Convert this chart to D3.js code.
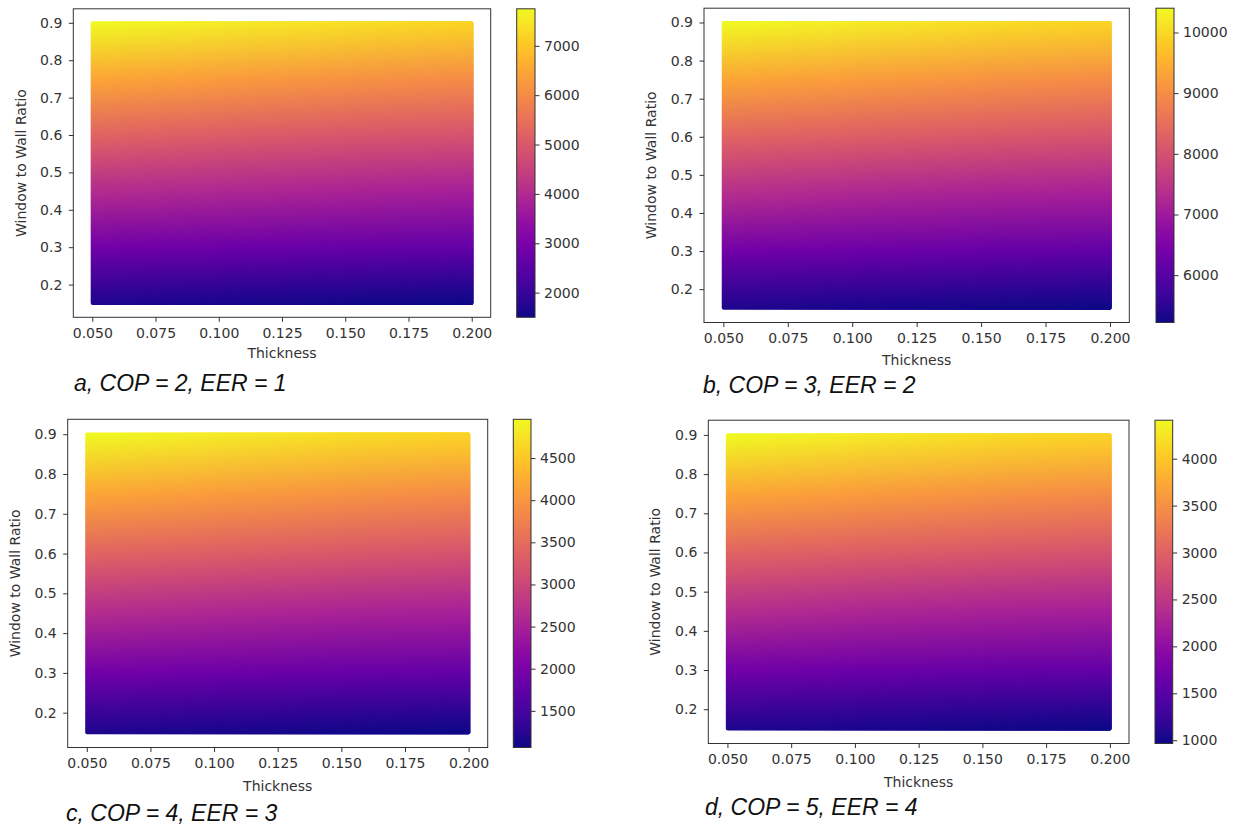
<!DOCTYPE html>
<html>
<head>
<meta charset="utf-8">
<script src="https://cdn.jsdelivr.net/npm/d3@7"></script>
<style>
  body { margin: 0; background: #fff; }
  svg { display: block; }
  text { font-family: 'DejaVu Sans', sans-serif; }
</style>
</head>
<body>
<svg id="chart"></svg>
<script>
// grid of the scatter
const thickness = [0.05, 0.1, 0.15, 0.2];
const wwr = [0.15, 0.3, 0.45, 0.6, 0.75, 0.9];

const xTicks = [0.05, 0.075, 0.1, 0.125, 0.15, 0.175, 0.2];
const yTicks = [0.2, 0.3, 0.4, 0.5, 0.6, 0.7, 0.8, 0.9];

// energy values, one row per wwr, one column per thickness
const valuesA = [
  [1690, 1620, 1560, 1500],
  [2880, 2790, 2710, 2630],
  [4060, 3950, 3850, 3750],
  [5250, 5110, 4990, 4880],
  [6500, 6330, 6160, 6000],
  [7750, 7540, 7360, 7190],
];
const valuesB = [
  [5375, 5320, 5270, 5220],
  [6360, 6280, 6205, 6150],
  [7345, 7240, 7160, 7085],
  [8330, 8225, 8120, 8020],
  [9365, 9210, 9080, 8950],
  [10400, 10220, 10060, 9935],
];
const valuesC = [
  [1180, 1140, 1100, 1065],
  [1920, 1865, 1805, 1765],
  [2660, 2585, 2525, 2470],
  [3400, 3325, 3245, 3170],
  [4180, 4065, 3965, 3870],
  [4960, 4825, 4705, 4610],
];
const valuesD = [
  [1070, 1035, 1000, 965],
  [1725, 1670, 1620, 1585],
  [2380, 2310, 2255, 2205],
  [3030, 2965, 2895, 2825],
  [3720, 3620, 3530, 3445],
  [4410, 4290, 4185, 4100],
];

const cbTicksA = [2000, 3000, 4000, 5000, 6000, 7000];
const cbTicksB = [6000, 7000, 8000, 9000, 10000];
const cbTicksC = [1500, 2000, 2500, 3000, 3500, 4000, 4500];
const cbTicksD = [1000, 1500, 2000, 2500, 3000, 3500, 4000];

const captions = [
  'a, COP = 2, EER = 1',
  'b, COP = 3, EER = 2',
  'c, COP = 4, EER = 3',
  'd, COP = 5, EER = 4',
];

// layout of the four panels (pixels)
const panels = [
  { key: 'a', values: valuesA, cbTicks: cbTicksA, caption: captions[0],
    box: [73.3, 8.8, 490.7, 317.3], cb: [516.7, 535], xlabY: 353, capX: 74, capY: 391, ylabX: 21 },
  { key: 'b', values: valuesB, cbTicks: cbTicksB, caption: captions[1],
    box: [704, 8.2, 1129.3, 322.5], cb: [1156, 1174], xlabY: 360, capX: 703, capY: 393, ylabX: 651 },
  { key: 'c', values: valuesC, cbTicks: cbTicksC, caption: captions[2],
    box: [67.7, 419.3, 487.7, 747.5], cb: [513.3, 531], xlabY: 786.5, capX: 66, capY: 821, ylabX: 15 },
  { key: 'd', values: valuesD, cbTicks: cbTicksD, caption: captions[3],
    box: [708.3, 420.2, 1129, 743.5], cb: [1155, 1172.7], xlabY: 782.5, capX: 705, capY: 815, ylabX: 655 },
];

const W = 1242, H = 826;
const markerR = 1.6;

const svg = d3.select('#chart')
    .attr('width', W)
    .attr('height', H);

const defs = svg.append('defs');

panels.forEach(p => {
  const [x0, y0, x1, y1] = p.box;
  const flat = p.values.flat();
  const vmin = d3.min(flat), vmax = d3.max(flat);

  // matplotlib style 5% margins
  const xPad = (d3.max(thickness) - d3.min(thickness)) * 0.05;
  const yPad = (d3.max(wwr) - d3.min(wwr)) * 0.05;
  const x = d3.scaleLinear()
      .domain([d3.min(thickness) - xPad, d3.max(thickness) + xPad])
      .range([x0, x1]);
  const y = d3.scaleLinear()
      .domain([d3.min(wwr) - yPad, d3.max(wwr) + yPad])
      .range([y1, y0]);
  const color = d3.scaleSequential(d3.interpolatePlasma).domain([vmin, vmax]);

  const g = svg.append('g').attr('class', 'panel-' + p.key);

  // one vertical gradient per thickness column
  const yTop = y(d3.max(wwr)), yBot = y(d3.min(wwr));
  thickness.forEach((t, j) => {
    const grad = defs.append('linearGradient')
        .attr('id', `col-${p.key}-${j}`)
        .attr('gradientUnits', 'userSpaceOnUse')
        .attr('x1', 0).attr('x2', 0)
        .attr('y1', yTop).attr('y2', yBot);
    wwr.slice().reverse().forEach((w, k) => {
      const row = wwr.length - 1 - k;
      grad.append('stop')
          .attr('offset', (y(w) - yTop) / (yBot - yTop))
          .attr('stop-color', color(p.values[row][j]));
    });
  });

  const fx0 = x(thickness[0]) - markerR;
  const fx1 = x(thickness[thickness.length - 1]) + markerR;
  const fy0 = yTop - markerR, fy1 = yBot + markerR;

  defs.append('clipPath')
      .attr('id', 'clip-' + p.key)
    .append('rect')
      .attr('x', fx0).attr('y', fy0)
      .attr('width', fx1 - fx0).attr('height', fy1 - fy0)
      .attr('rx', 2);

  const field = g.append('g').attr('clip-path', `url(#clip-${p.key})`);

  // first column fills the whole field, later ones fade in on top of it
  field.append('rect')
      .attr('x', fx0 - 2).attr('y', fy0 - 2)
      .attr('width', fx1 - fx0 + 4).attr('height', fy1 - fy0 + 4)
      .attr('fill', `url(#col-${p.key}-0)`);

  d3.pairs(thickness).forEach(([ta, tb], j) => {
    const fade = defs.append('linearGradient')
        .attr('id', `fade-${p.key}-${j}`)
        .attr('gradientUnits', 'userSpaceOnUse')
        .attr('x1', x(ta)).attr('x2', x(tb))
        .attr('y1', 0).attr('y2', 0);
    fade.append('stop').attr('offset', 0).attr('stop-color', '#000');
    fade.append('stop').attr('offset', 1).attr('stop-color', '#fff');

    defs.append('mask')
        .attr('id', `mask-${p.key}-${j}`)
        .attr('maskUnits', 'userSpaceOnUse')
        .attr('x', fx0 - 5).attr('y', fy0 - 5)
        .attr('width', fx1 - fx0 + 10).attr('height', fy1 - fy0 + 10)
      .append('rect')
        .attr('x', fx0 - 5).attr('y', fy0 - 5)
        .attr('width', fx1 - fx0 + 10).attr('height', fy1 - fy0 + 10)
        .attr('fill', `url(#fade-${p.key}-${j})`);

    field.append('rect')
        .attr('x', fx0 - 2).attr('y', fy0 - 2)
        .attr('width', fx1 - fx0 + 4).attr('height', fy1 - fy0 + 4)
        .attr('fill', `url(#col-${p.key}-${j + 1})`)
        .attr('mask', `url(#mask-${p.key}-${j})`);
  });

  // axes frame
  g.append('rect')
      .attr('x', x0).attr('y', y0)
      .attr('width', x1 - x0).attr('height', y1 - y0)
      .attr('fill', 'none')
      .attr('stroke', '#333')
      .attr('stroke-width', 1);

  const xAxis = g.append('g')
      .attr('transform', `translate(0,${y1})`)
      .call(d3.axisBottom(x).tickValues(xTicks).tickFormat(d3.format('.3f'))
        .tickSize(4.5).tickPadding(6.5).tickSizeOuter(0));
  const yAxis = g.append('g')
      .attr('transform', `translate(${x0},0)`)
      .call(d3.axisLeft(y).tickValues(yTicks).tickFormat(d3.format('.1f'))
        .tickSize(4.5).tickPadding(6.5).tickSizeOuter(0));

  [xAxis, yAxis].forEach(a => {
    a.select('.domain').remove();
    a.selectAll('line').attr('stroke', '#333');
    a.selectAll('text')
        .attr('fill', '#333')
        .style('font-size', '14px')
        .style('font-family', "'DejaVu Sans', sans-serif");
  });

  g.append('text')
      .attr('x', (x0 + x1) / 2)
      .attr('y', p.xlabY)
      .attr('dy', '0.35em')
      .attr('text-anchor', 'middle')
      .attr('fill', '#333')
      .style('font-size', '14px')
      .text('Thickness');

  g.append('text')
      .attr('transform', `translate(${p.ylabX},${(y0 + y1) / 2}) rotate(-90)`)
      .attr('dy', '0.35em')
      .attr('text-anchor', 'middle')
      .attr('fill', '#333')
      .style('font-size', '14px')
      .text('Window to Wall Ratio');

  // colorbar
  const [c0, c1] = p.cb;
  const cbScale = d3.scaleLinear().domain([vmin, vmax]).range([y1, y0]);
  const cbGrad = defs.append('linearGradient')
      .attr('id', 'cb-' + p.key)
      .attr('x1', 0).attr('x2', 0)
      .attr('y1', 1).attr('y2', 0);
  d3.range(0, 1.0001, 0.05).forEach(tt => {
    cbGrad.append('stop')
        .attr('offset', tt)
        .attr('stop-color', d3.interpolatePlasma(tt));
  });
  g.append('rect')
      .attr('x', c0).attr('y', y0)
      .attr('width', c1 - c0).attr('height', y1 - y0)
      .attr('fill', `url(#cb-${p.key})`)
      .attr('stroke', '#333')
      .attr('stroke-width', 1);

  const cbAxis = g.append('g')
      .attr('transform', `translate(${c1},0)`)
      .call(d3.axisRight(cbScale).tickValues(p.cbTicks).tickFormat(d3.format('d'))
        .tickSize(4.5).tickPadding(4.5).tickSizeOuter(0));
  cbAxis.select('.domain').remove();
  cbAxis.selectAll('line').attr('stroke', '#333');
  cbAxis.selectAll('text')
      .attr('fill', '#333')
      .style('font-size', '14px')
      .style('font-family', "'DejaVu Sans', sans-serif");

  // caption under the panel
  g.append('text')
      .attr('x', p.capX)
      .attr('y', p.capY)
      .attr('fill', '#111')
      .style('font-family', "'Liberation Sans', Arial, sans-serif")
      .style('font-style', 'italic')
      .style('font-size', '23px')
      .text(p.caption);
});
</script>
</body>
</html>
